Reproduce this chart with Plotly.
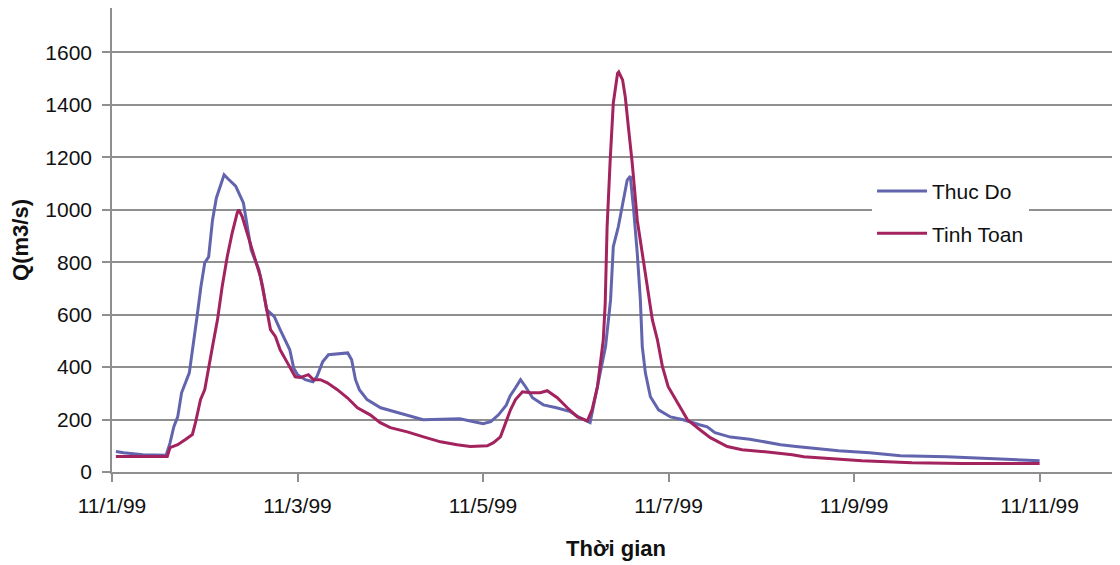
import pandas as pd
import plotly.graph_objects as go

# ---- data (hours after 11/1/99 00:00, discharge m3/s) ----
start_date = "1999-11-01"

thuc_do_hours = [1, 3, 8, 14, 15, 16, 17, 18, 20, 21, 22, 23, 24, 25, 26, 27, 28, 29, 30, 31, 32,
                 34, 35, 36, 38, 39, 40, 42, 43.5, 45, 46, 47, 48, 50, 52, 53, 54.5, 56, 61, 62,
                 63, 64, 66, 69.5, 74, 80.5, 90, 93.5, 96, 98, 100, 102, 103, 104.4, 105.7, 107,
                 108.8, 111.6, 115, 118.6, 121, 123.7, 124.5, 126.3, 127.7, 129, 129.7, 131, 132.3,
                 133.3, 134.1, 134.9, 135.9, 136.7, 137.2, 138, 139.3, 141.4, 144.5, 147.8, 152,
                 154, 156, 160, 165, 169, 173, 177, 182, 188, 196, 204, 216, 227, 236, 240]
thuc_do_values = [78, 73, 66, 64, 110, 173, 210, 302, 378, 478, 592, 706, 798, 820, 960, 1045, 1087,
                  1133, 1118, 1102, 1090, 1026, 935, 847, 771, 706, 619, 592, 543, 493, 466, 397,
                  371, 352, 344, 363, 420, 447, 454, 428, 352, 314, 276, 245, 226, 199, 203, 192,
                  184, 192, 218, 255, 290, 321, 352, 325, 283, 256, 245, 230, 207, 188, 249, 378,
                  478, 657, 859, 935, 1037, 1113, 1128, 1011, 834, 657, 478, 378, 287, 237, 210,
                  199, 180, 172, 150, 133, 125, 115, 104, 97, 89, 81, 73, 62, 58, 51, 45, 43]

tinh_toan_hours = [1, 14.3, 15, 17, 19, 20.8, 21.6, 22.9, 24, 25, 26, 27.3, 28.5, 29.8, 31.1, 32.4,
                   32.8, 33.7, 35, 36.6, 38.4, 39.7, 41, 42.3, 43.5, 45.4, 47.4, 48.7, 50.8, 52.1,
                   53.9, 55.7, 58.3, 60.9, 63.5, 66.8, 69.4, 72, 76.4, 80.6, 85, 89.3, 92.7, 97.1,
                   98.7, 100.5, 101.8, 103.1, 104.4, 106.2, 108.3, 110.8, 112.6, 115.2, 117.8,
                   120.4, 123, 124.2, 125.6, 126.3, 127.1, 127.6, 128.1, 128.9, 129.7, 130.8, 131.1,
                   132.1, 132.8, 133.6, 134.6, 135.9, 137.2, 138.5, 139.8, 141.1, 142.4, 143.9,
                   146.3, 148.9, 152.2, 154.8, 159.2, 163, 169, 176, 179, 186, 194, 207, 220, 240]
tinh_toan_values = [59, 59, 93, 104, 124, 143, 188, 276, 314, 390, 478, 581, 706, 820, 912, 988,
                    1000, 973, 912, 834, 744, 645, 543, 516, 466, 416, 363, 360, 371, 352, 352,
                    340, 314, 283, 245, 218, 188, 169, 153, 134, 115, 104, 97, 100, 112, 134, 188,
                    237, 276, 306, 302, 302, 310, 283, 245, 210, 195, 237, 325, 416, 503, 640, 935,
                    1190, 1406, 1520, 1525, 1495, 1430, 1316, 1177, 960, 834, 706, 581, 505, 403,
                    325, 264, 199, 160, 131, 97, 85, 77, 66, 58, 51, 43, 35, 32, 32]

tick_dates = ["1999-11-01", "1999-11-03", "1999-11-05", "1999-11-07", "1999-11-09", "1999-11-11"]
tick_labels = ["11/1/99", "11/3/99", "11/5/99", "11/7/99", "11/9/99", "11/11/99"]
y_ticks = [0, 200, 400, 600, 800, 1000, 1200, 1400, 1600]

series_names = ["Thuc Do", "Tinh Toan"]
colors = ["#6264AE", "#A3235E"]

base = pd.Timestamp(start_date)
x1 = base + pd.to_timedelta(thuc_do_hours, unit="h")
x2 = base + pd.to_timedelta(tinh_toan_hours, unit="h")

FONT = "Liberation Sans, Arial, sans-serif"
GRID = "#8f8f8f"

fig = go.Figure()
fig.add_trace(go.Scatter(x=x1, y=thuc_do_values, mode="lines", name=series_names[0],
                         legendgroup="a", line=dict(color=colors[0], width=3)))
fig.add_trace(go.Scatter(x=x2, y=tinh_toan_values, mode="lines", name=series_names[1],
                         legendgroup="b", line=dict(color=colors[1], width=3)))

x_end = base + pd.to_timedelta(260.8, unit="h")

# page body has an 8px margin, so the figure is sized/offset to fill the window
fig.update_layout(
    width=1112, height=557,
    margin=dict(l=104, r=0, t=0, b=93),
    paper_bgcolor="white", plot_bgcolor="white",
    font=dict(family=FONT, size=21, color="#111111"),
    showlegend=True,
    legend=dict(x=0.754, y=0.649, xanchor="left", yanchor="top",
                bgcolor="white", borderwidth=0, tracegroupgap=12,
                itemwidth=50, font=dict(size=21, family=FONT)),
    xaxis=dict(range=[base, x_end], tickvals=pd.to_datetime(tick_dates), ticktext=tick_labels,
               showgrid=False, showline=True, linecolor=GRID, linewidth=1.6,
               ticks="outside", ticklen=8, tickcolor=GRID, tickwidth=1.6,
               ticklabelstandoff=6, zeroline=False, automargin=False,
               title=dict(text="<b>Thời gian</b>", font=dict(size=22, family=FONT), standoff=25)),
    yaxis=dict(range=[0, 1769], tickvals=y_ticks, showgrid=True, gridcolor=GRID, gridwidth=1.6,
               showline=True, linecolor=GRID, linewidth=1.6, ticks="outside", ticklen=8,
               tickcolor=GRID, tickwidth=1.6, ticklabelstandoff=6, zeroline=False,
               automargin=False,
               title=dict(text="<b>Q(m3/s)</b>", font=dict(size=22, family=FONT), standoff=12)),
)

fig.write_html("out.html")
